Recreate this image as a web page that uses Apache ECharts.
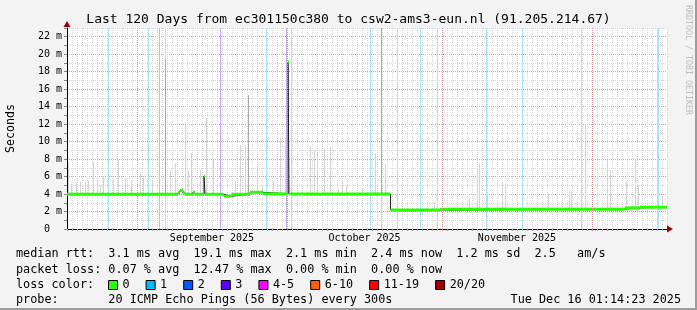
<!DOCTYPE html>
<html><head><meta charset="utf-8">
<script src="https://cdn.jsdelivr.net/npm/echarts@6/dist/echarts.min.js"></script>
<style>html,body{margin:0;padding:0;background:#f3f3f3}#c{width:697px;height:310px}</style>
</head><body><div id="c"></div>
<script>
// ---------- data (x = days since 2025-08-18 00:00, y = milliseconds) ----------
const titleText = 'Last 120 Days from ec301150c380 to csw2-ams3-eun.nl (91.205.214.67)';
const monthStartDays = [14, 44, 75, 105];            // Sep 1, Oct 1, Nov 1, Dec 1
const monthLabelDays = [29, 59.5, 90];
const monthLabels = ['September 2025', 'October 2025', 'November 2025'];

// median rtt change points: value holds from that day until the next one
const medianDays = [0, 22.2, 22.6, 23.2, 23.6, 25.2, 25.6, 27.4, 27.6, 31.3, 32.9, 36.6, 39.2, 44.2, 44.4, 64.7, 74.6, 111.6, 114.6, 120];
const medianVals = [3.97, 4.15, 4.4, 4.1, 3.97, 4.2, 3.97, 6.05, 3.97, 3.75, 3.97, 4.2, 4.02, 19.1, 4.0, 2.17, 2.27, 2.42, 2.5, 2.5];

// smoke (ping spread) spikes: day and highest ping
const smokeDays = [0.2, 0.8, 1.8, 2.6, 3.6, 4.2, 5.2, 6.0, 6.6, 7.2, 9.2, 10.3, 11.6, 12.9, 14.6, 15.3, 17.0, 19.6, 20.6, 21.6, 23.7, 24.3, 24.8, 26.6, 27.8, 29.2, 33.6, 34.6, 35.6, 36.2, 38.0, 39.0, 41.2, 42.6, 43.6, 48.6, 49.4, 50.0, 51.4, 52.6, 54.2, 55.0, 55.8, 59.0, 61.6, 62.8, 63.7,
  73.4, 80.4, 82.1, 82.5, 84.0, 87.0, 87.6, 96.2, 100.4, 100.8, 103.6, 108.0, 108.6, 111.8, 113.6, 114.2, 119.0];
const smokeTops = [7.7, 5.2, 5.3, 5.4, 5.4, 5.5, 7.7, 5.8, 5.0, 6.0, 5.6, 7.9, 5.8, 5.5, 6.5, 5.9, 5.5, 19.4, 6.7, 7.5, 12.1, 6.7, 8.7, 6.7, 12.7, 7.9, 5.5, 9.6, 9.6, 15.3, 7.5, 4.8, 5.5, 10.4, 10.4, 9.4, 9.0, 8.8, 9.2, 9.4, 4.6, 5.5, 4.9, 4.6, 8.7, 23, 7.5,
  3.1, 3.5, 6.9, 7.5, 4.1, 5.4, 5.2, 4.1, 4.3, 4.3, 12, 7.9, 6.75, 5.4, 8.1, 5.0, 3.7];

// packet-loss background lines
const loss1Days = [8.26, 16.26, 19.66, 39.8, 44.8, 60.66, 62.86, 66.06, 70.66, 74.06, 83.8, 91.0, 102.8, 118.0, 118.2];
const loss2Days = [18.46];
const loss3Days = [30.66, 43.8];

const lossNames = ['0', '1', '2', '3', '4-5', '6-10', '11-19', '20/20'];
const lossColors = ['#26ff00', '#00b8ff', '#0059ff', '#5e00ff', '#ff00ff', '#ff5e00', '#ff0000', '#a10000'];

const statRows = [
  'median rtt:  3.1 ms avg  19.1 ms max  2.1 ms min  2.4 ms now  1.2 ms sd  2.5   am/s',
  'packet loss: 0.07 % avg  12.47 % max  0.00 % min  0.00 % now',
  'loss color:',
  'probe:       20 ICMP Echo Pings (56 Bytes) every 300s'
];
const stampText = 'Tue Dec 16 01:14:23 2025';
const watermark = 'RRDTOOL / TOBI OETIKER';

// ---------- chart ----------
const MONO = 'DejaVu Sans Mono';
const Y_MAX = 23;
const BAND = 0.17;

function medianAt(d) {
  let v = medianVals[0];
  for (let i = 0; i < medianDays.length; i++) { if (medianDays[i] <= d) v = medianVals[i]; }
  return v;
}
const medianData = medianDays.map((d, i) => [d, medianVals[i]]);
const bandData = medianDays.slice(0, -1).map((d, i) => [d, medianDays[i + 1], medianVals[i]]);
const smokeData = smokeDays.map((d, i) => [d, medianAt(d) - 0.1, Math.min(smokeTops[i], Y_MAX)]);

function alphaColor(hex, a) {
  const r = parseInt(hex.slice(1, 3), 16), g = parseInt(hex.slice(3, 5), 16), b = parseInt(hex.slice(5, 7), 16);
  const mix = c => Math.round(c * a + 255 * (1 - a));
  return 'rgb(' + mix(r) + ',' + mix(g) + ',' + mix(b) + ')';
}

function lossSeries(name, days, color) {
  return {
    name, type: 'custom', z: 1, clip: true,
    data: days.map(d => [d, 0, Y_MAX]),
    itemStyle: { color },
    renderItem(params, api) {
      const top = api.coord([api.value(0), api.value(2)]);
      const bot = api.coord([api.value(0), api.value(1)]);
      return { type: 'rect', shape: { x: Math.floor(top[0]), y: top[1], width: 1, height: bot[1] - top[1] }, style: { fill: alphaColor(color, 0.35) } };
    }
  };
}

const chart = echarts.init(document.getElementById('c'), null, { renderer: 'canvas' });
const series = [
  {
    name: 'monthGrid', type: 'line', data: [], z: 1, silent: true,
    markLine: { silent: true, symbol: 'none', label: { show: false }, animation: false,
      lineStyle: { color: '#e49494', type: [1, 1], width: 1 },
      data: monthStartDays.map(d => ({ xAxis: d })) }
  },
  lossSeries('1', loss1Days, lossColors[1]),
  lossSeries('2', loss2Days, lossColors[2]),
  lossSeries('3', loss3Days, lossColors[3]),
  {
    name: 'smoke', type: 'custom', z: 2, clip: true, data: smokeData,
    renderItem(params, api) {
      const top = api.coord([api.value(0), api.value(2)]);
      const bot = api.coord([api.value(0), api.value(1)]);
      const tall = api.value(2) > 15;
      return { type: 'rect', shape: { x: Math.floor(top[0]), y: top[1], width: 1, height: bot[1] - top[1] }, style: { fill: tall ? '#a8a8a8' : '#d4d4d4' } };
    }
  },
  {
    name: 'median', type: 'line', step: 'end', data: medianData, z: 3, symbol: 'none',
    lineStyle: { color: '#202020', width: 1 }
  },
  {
    name: '0', type: 'custom', z: 4, clip: true, data: bandData, itemStyle: { color: lossColors[0] },
    renderItem(params, api) {
      const a = api.coord([api.value(0), api.value(2) + BAND]);
      const b = api.coord([api.value(1), api.value(2) - BAND]);
      return { type: 'rect', shape: { x: a[0], y: a[1], width: b[0] - a[0], height: b[1] - a[1] }, style: { fill: lossColors[0] } };
    }
  }
];
['4-5', '6-10', '11-19', '20/20'].forEach(n => {
  series.push({ name: n, type: 'custom', data: [], renderItem: () => null, itemStyle: { color: lossColors[lossNames.indexOf(n)] } });
});

const graphics = [];
statRows.forEach((t, i) => {
  graphics.push({ type: 'text', x: 16, y: [254, 269.8, 285, 300][i], silent: true,
    style: { text: t, font: '11.8px "' + MONO + '"', fill: '#000', verticalAlign: 'middle' } });
});
graphics.push({ type: 'text', x: 681, y: 300, silent: true,
  style: { text: stampText, font: '11.8px "' + MONO + '"', fill: '#000', align: 'right', verticalAlign: 'middle' } });
graphics.push({ type: 'text', x: 688, y: 5, rotation: -Math.PI / 2, silent: true,
  style: { text: watermark, font: '8.3px "' + MONO + '"', fill: '#bdbdbd', align: 'left', verticalAlign: 'middle' } });
graphics.push({ type: 'rect', silent: true, shape: { x: 695, y: 0, width: 2, height: 310 }, style: { fill: '#9c9c9c' } });
graphics.push({ type: 'rect', silent: true, shape: { x: 0, y: 308, width: 697, height: 2 }, style: { fill: '#9c9c9c' } });

chart.setOption({
  backgroundColor: '#f3f3f3',
  animation: false,
  title: { text: titleText, left: 'center', top: 13.5, padding: 0,
    textStyle: { fontFamily: MONO, fontSize: 13, fontWeight: 'normal', color: '#000' } },
  grid: { left: 67, top: 28, width: 600, height: 201, show: true, backgroundColor: '#ffffff', borderWidth: 0,
    containLabel: false, outerBoundsMode: 'none' },
  legend: {
    data: lossNames.map((n, i) => ({ name: n, icon: 'rect', itemStyle: { color: lossColors[i], borderColor: '#000', borderWidth: 1 } })),
    left: 108, top: 279, padding: 0, itemWidth: 9, itemHeight: 9, itemGap: 16, selectedMode: false,
    textStyle: { fontFamily: MONO, fontSize: 11.8, color: '#000' }
  },
  xAxis: [
    { type: 'value', min: 0, max: 120, interval: 1,
      axisLine: { show: true, lineStyle: { color: '#000', width: 1 } },
      axisTick: { show: true, length: 2, lineStyle: { color: '#aaaaaa' } },
      axisLabel: { show: false },
      splitLine: { show: true, lineStyle: { color: '#d8d8d8', type: [1, 1], width: 1 } } },
    { type: 'value', min: 0, max: 120, interval: 0.5, position: 'bottom',
      axisLine: { show: true, symbol: ['none', 'triangle'], symbolSize: [7, 6], symbolOffset: [0, 3], lineStyle: { color: '#a10000', width: 0 } },
      axisTick: { show: false }, splitLine: { show: false },
      axisLabel: { interval: 0, margin: 4, fontFamily: MONO, fontSize: 10, color: '#000',
        formatter: v => { const k = monthLabelDays.indexOf(v); return k >= 0 ? monthLabels[k] : ''; } } }
  ],
  yAxis: [
    { type: 'value', min: 0, max: Y_MAX, interval: 1,
      name: 'Seconds', nameLocation: 'middle', nameGap: 50, nameRotate: 90,
      nameTextStyle: { fontFamily: MONO, fontSize: 11.6, color: '#000' },
      axisLine: { show: true, lineStyle: { color: '#000', width: 1 } },
      axisTick: { show: true, length: 3, lineStyle: { color: '#888' } },
      axisLabel: { margin: 5, fontFamily: MONO, fontSize: 10, color: '#000',
        formatter: v => (v % 2 ? '' : (v === 0 ? '0  ' : v + ' m')) },
      splitLine: { show: true, lineStyle: { color: ['#e4a0a0', '#d8d8d8'], type: [1, 1], width: 1 } } },
    { type: 'value', min: 0, max: Y_MAX, position: 'left',
      axisLine: { show: true, symbol: ['none', 'triangle'], symbolSize: [7, 6], symbolOffset: [0, 4], lineStyle: { color: '#a10000', width: 0 } },
      axisTick: { show: false }, axisLabel: { show: false }, splitLine: { show: false } }
  ],
  graphic: graphics,
  series
});
</script></body></html>
